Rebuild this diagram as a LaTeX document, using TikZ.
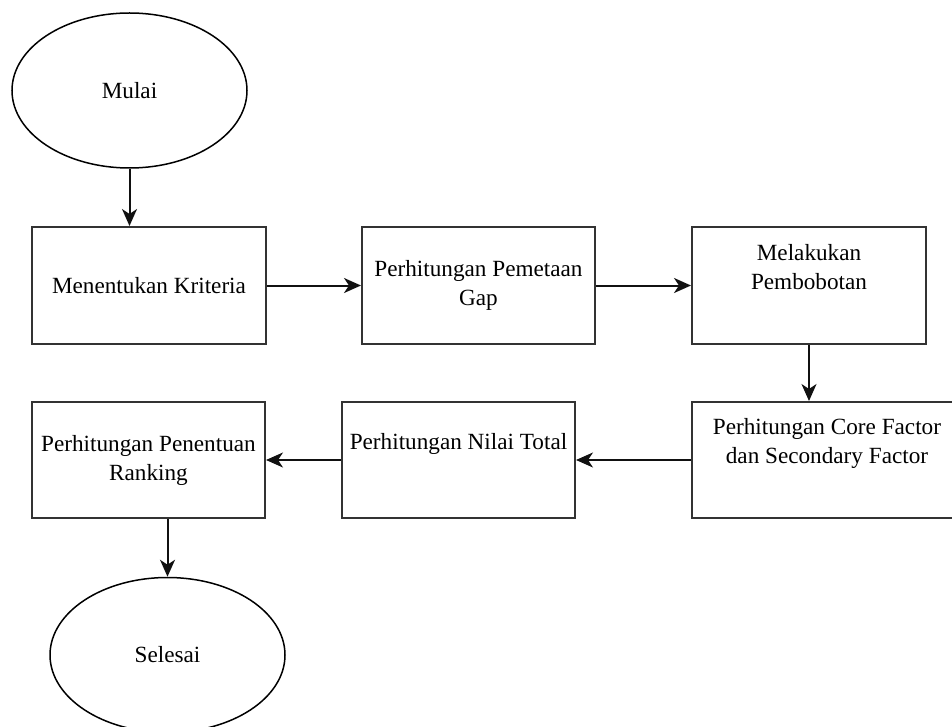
\documentclass[tikz,border=0pt]{standalone}
\usepackage{fontspec}
\setmainfont{Liberation Serif}
\usepackage{tikz}
\usetikzlibrary{positioning,arrows.meta,shapes.geometric}
\definecolor{garisKotak}{HTML}{333333}
\definecolor{garisPanah}{HTML}{111111}

\begin{document}
\begin{tikzpicture}[x=1pt, y=-1pt, font=\fontsize{23.2}{29}\selectfont,
    kotak/.style={draw=garisKotak, line width=2pt, rectangle, minimum width=233pt, minimum height=116pt, align=center, inner sep=0pt},
    elips/.style={draw=black, line width=1.5pt, ellipse, minimum width=235pt, minimum height=155pt, inner sep=0pt},
    panah/.style={draw=garisPanah, line width=2pt, -{Stealth[length=17pt, width=15pt, inset=5pt]}}]
    \clip (0,0) rectangle (952,727);

    % Mulai dan Selesai
    \node[elips] (mulai) at (129.5,90.5) {Mulai};
    \node[elips] (selesai) at (167.5,655) {Selesai};

    % Baris atas
    \node[kotak, minimum width=234pt, minimum height=117pt] (kriteria) at (149,285.5) {Menentukan Kriteria};
    \node[kotak, minimum height=117pt] (gap) at (478.5,285.5) {Perhitungan Pemetaan\\ Gap};
    \node[kotak, minimum width=234pt, minimum height=117pt] (bobot) at (809,285.5) {Melakukan\\ Pembobotan\\ \strut};

    % Baris bawah
    \node[kotak, minimum width=270pt] (faktor) at (827,460) {Perhitungan Core Factor\\ dan Secondary Factor\\ \strut};
    \node[kotak] (total) at (458.5,460) {Perhitungan Nilai Total\\ \strut};
    \node[kotak] (ranking) at (148.5,460) {Perhitungan Penentuan\\ Ranking};

    % Panah
    \draw[panah] (mulai.south) -- (mulai.south |- kriteria.north);
    \draw[panah] (kriteria) -- (gap);
    \draw[panah] (gap) -- (bobot);
    \draw[panah] (bobot.south) -- (bobot.south |- faktor.north);
    \draw[panah] (faktor) -- (total);
    \draw[panah] (total) -- (ranking);
    \draw[panah] (selesai.north |- ranking.south) -- (selesai.north);
\end{tikzpicture}
\end{document}
